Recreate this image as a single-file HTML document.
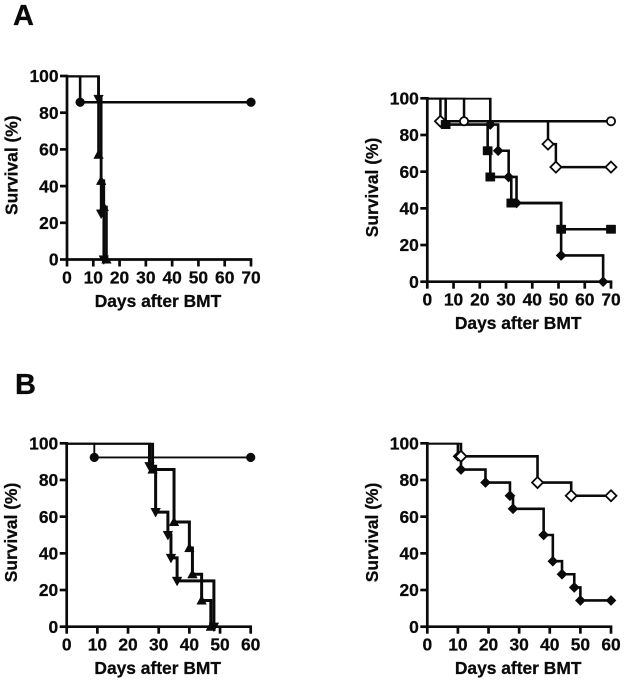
<!DOCTYPE html>
<html lang="en">
<head>
<meta charset="utf-8">
<title>Survival curves</title>
<style>
html,body{margin:0;padding:0;background:#fff;width:624px;height:682px;overflow:hidden}
svg{display:block;filter:blur(0.3px)}
text{font-family:"Liberation Sans",Arial,sans-serif;font-weight:bold;fill:#0a0a0a;stroke:#0a0a0a;stroke-width:0.25px}
</style>
</head>
<body>
<svg id="figure" width="624" height="682" viewBox="0 0 624 682" xmlns="http://www.w3.org/2000/svg">
  <text x="13" y="25" font-size="29">A</text>
  <text x="15" y="394" font-size="29">B</text>
</svg>
<script>
// Tick labels
const yTicks = [0, 20, 40, 60, 80, 100];
const xTicks70 = [0, 10, 20, 30, 40, 50, 60, 70];
const xTicks60 = [0, 10, 20, 30, 40, 50, 60];

// Panel A, left
const aLeftCircleDays = [5, 70];
const aLeftCircleSurvival = [85.7, 85.7];
const aLeftDownDays = [12, 13, 14];
const aLeftDownSurvival = [87.5, 25, 0];
const aLeftUpDays = [12, 13, 14, 15];
const aLeftUpSurvival = [57.1, 42.9, 28.6, 0];

// Panel A, right
const aRightCircleDays = [14, 70];
const aRightCircleSurvival = [87.5, 87.5];
const aRightOpenDiamondDays = [5, 46, 49, 70];
const aRightOpenDiamondSurvival = [87.5, 75, 62.5, 62.5];
const aRightSquareDays = [7, 23, 24, 32, 51, 70];
const aRightSquareSurvival = [85.7, 71.4, 57.1, 42.9, 28.6, 28.6];
const aRightDiamondDays = [24, 27, 31, 34, 51, 67];
const aRightDiamondSurvival = [85.7, 71.4, 57.1, 42.9, 14.3, 0];

// Panel B, left
const bLeftCircleDays = [9, 60];
const bLeftCircleSurvival = [92.3, 92.3];
const bLeftDownDays = [27, 29, 33, 34, 36, 48];
const bLeftDownSurvival = [87.5, 62.5, 50, 37.5, 25, 0];
const bLeftUpDays = [28, 35, 40, 41, 44, 47];
const bLeftUpSurvival = [85.7, 57.1, 42.9, 28.6, 14.3, 0];

// Panel B, right
const bRightOpenDiamondDays = [11, 36, 47, 60];
const bRightOpenDiamondSurvival = [92.9, 78.6, 71.4, 71.4];
const bRightDiamondDays = [10, 11, 19, 27, 28, 38, 41, 44, 48, 50, 60];
const bRightDiamondSurvival = [92.9, 85.7, 78.6, 71.4, 64.3, 50, 35.7, 28.6, 21.4, 14.3, 14.3];

const NS = 'http://www.w3.org/2000/svg';
const figure = document.getElementById('figure');
const INK = '#0a0a0a';

function make(tag, name, parent, attrs) {
  const el = document.createElementNS(NS, tag);
  
  
  for (const k in attrs) el.setAttribute(k, attrs[k]);
  parent.appendChild(el);
  return el;
}

function marker(parent, name, shape, px, py) {
  const open = shape === 'open-circle' || shape === 'open-diamond';
  const fill = open ? '#fff' : INK;
  const style = {fill: fill, stroke: INK, 'stroke-width': open ? 1.8 : 0.5};
  if (shape === 'circle' || shape === 'open-circle') {
    make('circle', name, parent, Object.assign({cx: px, cy: py, r: open ? 4.1 : 4.4}, style));
    return;
  }
  let pts;
  if (shape === 'square') {
    pts = [[-4.6,-4.2],[4.6,-4.2],[4.6,4.2],[-4.6,4.2]];
  } else if (shape === 'diamond') {
    pts = [[0,-5.1],[5.1,0],[0,5.1],[-5.1,0]];
  } else if (shape === 'open-diamond') {
    pts = [[0,-5.5],[5.5,0],[0,5.5],[-5.5,0]];
  } else if (shape === 'up') {
    pts = [[0,-5],[4.8,3.8],[-4.8,3.8]];
  } else {
    pts = [[0,5],[4.8,-3.8],[-4.8,-3.8]];
  }
  const p = pts.map(function (q) { return (px + q[0]) + ',' + (py + q[1]); }).join(' ');
  make('polygon', name, parent, Object.assign({points: p}, style));
}

function drawPanel(panel) {
  const g = make('g', panel.id + '-chart', figure, {});
  const x = function (d) { return panel.x0 + (d / panel.xMax) * (panel.x1 - panel.x0); };
  const y = function (s) { return panel.y0 - (s / 100) * (panel.y0 - panel.y1); };

  // Lines are clipped at the 100% level, so the top run renders thinner
  const clip = make('clipPath', panel.id + '-clip', g, {id: panel.id + '-clip'});
  make('rect', panel.id + '-clip-area', clip, {x: x(0) - 5, y: y(100) - 0.6, width: x(panel.xMax) - x(0) + 10, height: y(0) - y(100) + 6});
  const lines = make('g', panel.id + '-series-lines', g, {'clip-path': 'url(#' + panel.id + '-clip)'});

  panel.series.forEach(function (s) {
    let d = 'M' + x(0) + ' ' + y(100);
    s.days.forEach(function (t, i) {
      d += ' H' + x(t) + ' V' + y(s.survival[i]);
    });
    make('path', panel.id + '-' + s.name + '-line', lines, {
      d: d, fill: 'none', stroke: INK, 'stroke-width': s.width, 'stroke-linejoin': 'miter'
    });
  });

  // Axes
  make('line', panel.id + '-y-axis', g, {x1: x(0), x2: x(0), y1: y(100) - 1.3, y2: y(0) + 1.3, stroke: INK, 'stroke-width': 2.7});
  make('line', panel.id + '-x-axis', g, {x1: x(0), x2: x(panel.xMax) + 1.3, y1: y(0), y2: y(0), stroke: INK, 'stroke-width': 2.7});

  yTicks.forEach(function (t) {
    make('line', panel.id + '-y-tick', g, {x1: x(0) - 7, x2: x(0), y1: y(t), y2: y(t), stroke: INK, 'stroke-width': 2.7});
    const lab = make('text', panel.id + '-y-tick-label', g, {x: x(0) - 8.5, y: y(t) + 6.2, 'text-anchor': 'end', 'font-size': 17.4});
    lab.textContent = String(t);
  });
  panel.xTicks.forEach(function (t) {
    make('line', panel.id + '-x-tick', g, {x1: x(t), x2: x(t), y1: y(0), y2: y(0) + 7, stroke: INK, 'stroke-width': 2.7});
    const lab = make('text', panel.id + '-x-tick-label', g, {x: x(t), y: y(0) + 24, 'text-anchor': 'middle', 'font-size': 17.4});
    lab.textContent = String(t);
  });

  panel.series.forEach(function (s) {
    s.days.forEach(function (t, i) {
      marker(g, panel.id + '-' + s.name + '-marker', s.shape, x(t), y(s.survival[i]));
    });
  });

  const xt = make('text', panel.id + '-x-axis-title', g, {x: (x(0) + x(panel.xMax)) / 2 - 1, y: y(0) + 47.5, 'text-anchor': 'middle', 'font-size': 17.4});
  xt.textContent = 'Days after BMT';
  const cy = (y(0) + y(100)) / 2 - 2.5;
  const tx = x(0) - 49.5;
  const yt = make('text', panel.id + '-y-axis-title', g, {x: tx, y: cy, 'text-anchor': 'middle', 'font-size': 17.4, transform: 'rotate(-90 ' + tx + ' ' + cy + ')'});
  yt.textContent = 'Survival (%)';
}

drawPanel({
  id: 'panel-a-left', x0: 67, x1: 251, y0: 259.5, y1: 76, xMax: 70, xTicks: xTicks70,
  series: [
    {name: 'circle', shape: 'circle', width: 2.6, days: aLeftCircleDays, survival: aLeftCircleSurvival},
    {name: 'triangle-down', shape: 'down', width: 2.7, days: aLeftDownDays, survival: aLeftDownSurvival},
    {name: 'triangle-up', shape: 'up', width: 2.7, days: aLeftUpDays, survival: aLeftUpSurvival}
  ]
});
drawPanel({
  id: 'panel-a-right', x0: 427.3, x1: 611, y0: 281.7, y1: 98.3, xMax: 70, xTicks: xTicks70,
  series: [
    {name: 'open-circle', shape: 'open-circle', width: 2.5, days: aRightCircleDays, survival: aRightCircleSurvival},
    {name: 'open-diamond', shape: 'open-diamond', width: 2.5, days: aRightOpenDiamondDays, survival: aRightOpenDiamondSurvival},
    {name: 'square', shape: 'square', width: 2.6, days: aRightSquareDays, survival: aRightSquareSurvival},
    {name: 'diamond', shape: 'diamond', width: 2.6, days: aRightDiamondDays, survival: aRightDiamondSurvival}
  ]
});
drawPanel({
  id: 'panel-b-left', x0: 66.7, x1: 250.7, y0: 626.7, y1: 443.3, xMax: 60, xTicks: xTicks60,
  series: [
    {name: 'circle', shape: 'circle', width: 1.9, days: bLeftCircleDays, survival: bLeftCircleSurvival},
    {name: 'triangle-down', shape: 'down', width: 3, days: bLeftDownDays, survival: bLeftDownSurvival},
    {name: 'triangle-up', shape: 'up', width: 3, days: bLeftUpDays, survival: bLeftUpSurvival}
  ]
});
drawPanel({
  id: 'panel-b-right', x0: 427.3, x1: 611, y0: 626.7, y1: 443.3, xMax: 60, xTicks: xTicks60,
  series: [
    {name: 'diamond', shape: 'diamond', width: 2.6, days: bRightDiamondDays, survival: bRightDiamondSurvival},
    {name: 'open-diamond', shape: 'open-diamond', width: 2.6, days: bRightOpenDiamondDays, survival: bRightOpenDiamondSurvival}
  ]
});
</script>
</body>
</html>
